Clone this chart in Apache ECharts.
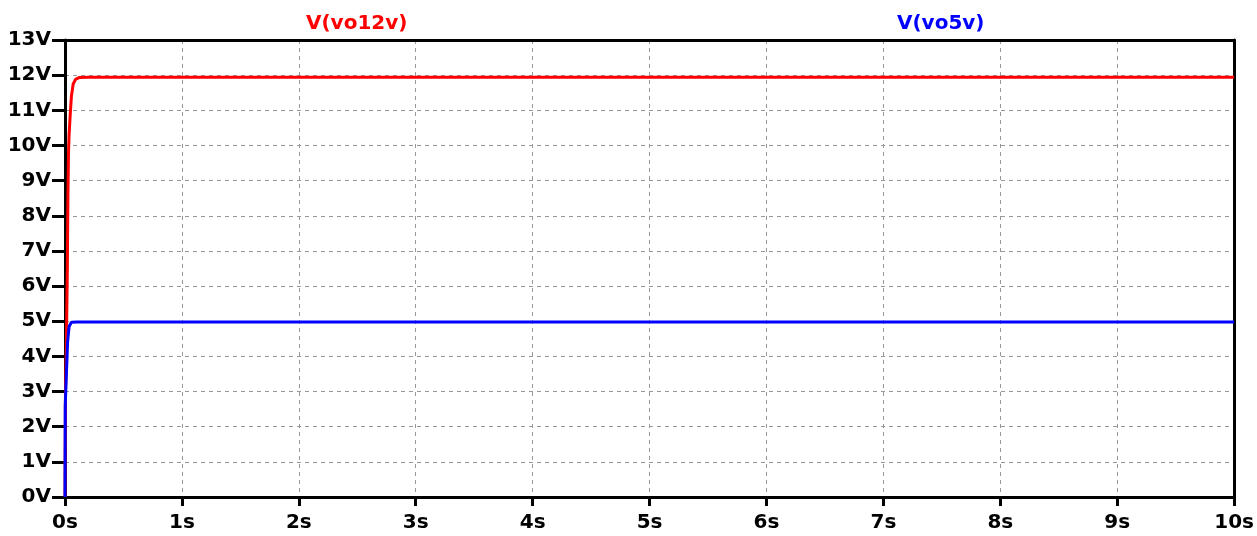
<!DOCTYPE html>
<html><head><meta charset="utf-8">
<script src="https://cdn.jsdelivr.net/npm/echarts@6/dist/echarts.min.js"></script>
<style>html,body{margin:0;padding:0;background:#fff}#c{width:1257px;height:536px}</style>
</head><body><div id="c"></div>
<script>
const seriesNames = ['V(vo12v)', 'V(vo5v)'];
const vo12v = [[0,0],[0.004,3.0],[0.008,3.6],[0.012,4.4],[0.02,6.5],[0.025,8.5],[0.03,9.8],[0.035,10.3],[0.045,10.9],[0.055,11.4],[0.07,11.75],[0.09,11.88],[0.12,11.93],[0.2,11.94],[10,11.94]];
const vo5v = [[0,0],[0.002,2.6],[0.018,2.65],[0.022,4.4],[0.035,4.85],[0.055,4.97],[0.1,4.98],[10,4.98]];
const xTicks = {min:0, max:10, interval:1, unit:'s'};
const yTicks = {min:0, max:13, interval:1, unit:'V'};

const chart = echarts.init(document.getElementById('c'));
const lblFont = {fontFamily:'DejaVu Sans', fontWeight:'bold', fontSize:20, color:'#000'};
const frameAxis = {axisLine:{show:true, onZero:false, lineStyle:{color:'#000', width:3}}, axisTick:{show:false}, axisLabel:{show:false}, splitLine:{show:false}};
chart.setOption({
  animation:false,
  backgroundColor:'#fff',
  title:[
    {text:seriesNames[0], left:301, top:9, textStyle:{color:'#ff0000', fontFamily:'DejaVu Sans', fontWeight:'bold', fontSize:20}},
    {text:seriesNames[1], left:892, top:9, textStyle:{color:'#0000ff', fontFamily:'DejaVu Sans', fontWeight:'bold', fontSize:20}}
  ],
  grid:{left:65, right:22, top:40, bottom:39},
  xAxis:[
    {type:'value', min:xTicks.min, max:xTicks.max, interval:xTicks.interval,
    axisLine:{onZero:false, lineStyle:{color:'#000', width:3}},
    axisTick:{length:9, lineStyle:{color:'#000', width:3}},
    axisLabel:Object.assign({formatter:'{value}'+xTicks.unit, margin:16}, lblFont),
    splitLine:{lineStyle:{color:'#999', type:[4,4], width:1}}},
    Object.assign({type:'value', position:'top', min:xTicks.min, max:xTicks.max}, frameAxis)
  ],
  yAxis:[
    {type:'value', min:yTicks.min, max:yTicks.max, interval:yTicks.interval,
    axisLine:{show:true, onZero:false, lineStyle:{color:'#000', width:3}},
    axisTick:{show:true, length:13, lineStyle:{color:'#000', width:3}},
    axisLabel:Object.assign({formatter:'{value}'+yTicks.unit, margin:14}, lblFont),
    splitLine:{lineStyle:{color:'#999', type:[4,4], width:1}}},
    Object.assign({type:'value', position:'right', min:yTicks.min, max:yTicks.max}, frameAxis)
  ],
  series:[
    {name:seriesNames[0], type:'line', data:vo12v, showSymbol:false, lineStyle:{color:'#ff0000', width:3}, itemStyle:{color:'#ff0000'}},
    {name:seriesNames[1], type:'line', data:vo5v, showSymbol:false, lineStyle:{color:'#0000ff', width:3}, itemStyle:{color:'#0000ff'}}
  ]
});
</script></body></html>
